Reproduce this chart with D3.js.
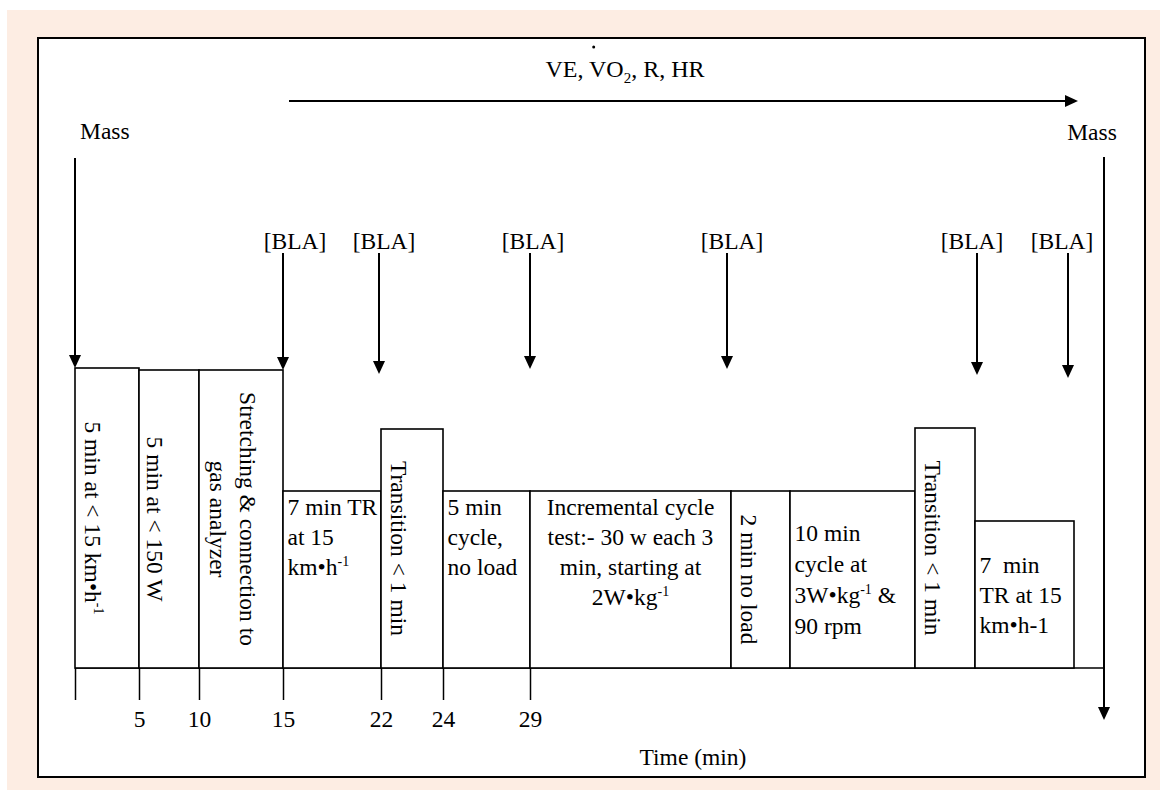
<!DOCTYPE html>
<html>
<head>
<meta charset="utf-8">
<script src="https://cdn.jsdelivr.net/npm/d3@7"></script>
<style>
  html, body { margin: 0; padding: 0; background: #fff; }
  svg text { font-family: "Liberation Serif", "Times New Roman", serif; fill: #000; white-space: pre; }
</style>
</head>
<body>
<svg id="chart" width="1160" height="798"></svg>
<script>
'use strict'

// protocol segments (minutes)
const segStart = [0, 5, 10, 15, 22, 24, 29, 41, 43, 53, 54];
const segEnd   = [5, 10, 15, 22, 24, 29, 41, 43, 53, 54, 61];
const segLabel = [
  ['5 min at < 15 km•h^-1^'],
  ['5 min at < 150 W'],
  ['Stretching & connection to', 'gas analyzer'],
  ['7 min TR', 'at 15', 'km•h^-1^'],
  ['Transition < 1 min'],
  ['5 min', 'cycle,', 'no load'],
  ['Incremental cycle', 'test:- 30 w each 3', 'min, starting at', '2W•kg^-1^'],
  ['2 min no load'],
  ['10 min', 'cycle at', '3W•kg^-1^ &', '90 rpm'],
  ['Transition < 1 min'],
  ['7  min', 'TR at 15', 'km•h-1']
];
const tickVals = [0, 5, 10, 15, 22, 24, 29];
const blaTimes = [15, 22, 29, 41, 54, 61];
const massTimes = [0, 61];
const topLabel = ['VE, VO', '2', ', R, HR'];
const axisTitle = 'Time (min)';

// layout (pixels)
const bounds = [0, 5, 10, 15, 22, 24, 29, 41, 43, 53, 54, 61];
const boundsPx = [75, 139, 199, 283, 381, 443, 530, 731, 790, 915, 975, 1074];
const baseY = 668;
const boxTop = [368, 370, 370, 491, 429, 491, 491, 491, 491, 428, 521];
const orient = ['v', 'v', 'v', 'h', 'v', 'h', 'h', 'v', 'h', 'v', 'h'];
const vOffset = [-22, -22, -31, 0, -21, 0, 0, -20, 0, -20, 0];
const hAlign = [null, null, null, 'left', null, 'left', 'middle', null, 'left', null, 'left'];
const vAlign = [null, null, null, 'top', null, 'top', 'top', null, 'middle', null, 'middle'];
const lineH = [30, 30, 30, 30, 30, 30, 30, 30, 31.3, 30, 30];
const blaTip = [370, 374, 369, 369, 375, 378];
const blaDx = [12, 5, 3, 5, -5, -6];
const fs = 23.5;

const svg = d3.select('#chart');
const x = d3.scaleLinear().domain(bounds).range(boundsPx);
const massRightX = 1104;

svg.append('rect').attr('x', 7).attr('y', 10).attr('width', 1153).attr('height', 780).attr('fill', '#fdede3');
svg.append('rect').attr('x', 38).attr('y', 38).attr('width', 1107).attr('height', 739)
  .attr('fill', '#fff').attr('stroke', '#000').attr('stroke-width', 2);

function addRich (sel, str) {
  const parts = str.split('^');
  parts.forEach((p, i) => {
    if (!p) return;
    const sup = i % 2 === 1;
    const t = sel.append('tspan').text(p);
    if (sup) {
      t.attr('font-size', 14).attr('dy', -9);
    } else if (i > 0 && parts[i - 1] !== undefined && i >= 2) {
      t.attr('dy', 9);
    }
  });
}

function arrowDown (xx, y1, y2) {
  svg.append('line').attr('x1', xx).attr('x2', xx).attr('y1', y1).attr('y2', y2 - 10)
    .attr('stroke', '#000').attr('stroke-width', 2);
  svg.append('path').attr('d', `M${xx - 6},${y2 - 13}L${xx + 6},${y2 - 13}L${xx},${y2}Z`).attr('fill', '#000');
}

// baseline
svg.append('line').attr('x1', x(0)).attr('x2', massRightX).attr('y1', baseY).attr('y2', baseY)
  .attr('stroke', '#000').attr('stroke-width', 1.6);

// axis ticks
const axis = d3.axisBottom(x).tickValues(tickVals).tickSize(32).tickPadding(10)
  .tickFormat(d => d === 0 ? '' : d);
const ag = svg.append('g').attr('transform', `translate(0,${baseY})`).call(axis);
ag.select('.domain').remove();
ag.selectAll('line').attr('stroke', '#000').attr('stroke-width', 1.5);
ag.selectAll('text').attr('font-size', fs).attr('font-family', '"Liberation Serif", serif').attr('fill', '#000');

// boxes
segStart.forEach((s, i) => {
  const x0 = x(s), x1 = x(segEnd[i]);
  const top = boxTop[i];
  svg.append('rect').attr('x', x0).attr('y', top).attr('width', x1 - x0).attr('height', baseY - top)
    .attr('fill', '#fff').attr('stroke', '#000').attr('stroke-width', 1.6);
  const lines = segLabel[i];
  const n = lines.length;
  if (orient[i] === 'v') {
    const cx = (x0 + x1) / 2 + vOffset[i];
    const cy = (top + baseY) / 2;
    const g = svg.append('g').attr('transform', `translate(${cx},${cy}) rotate(90)`);
    lines.forEach((ln, j) => {
      const t = g.append('text').attr('x', 0).attr('y', -(n - 1 - j) * lineH[i])
        .attr('text-anchor', 'middle').attr('font-size', fs);
      addRich(t, ln);
    });
  } else {
    let y0;
    if (vAlign[i] === 'top') y0 = top + 24;
    else y0 = (top + baseY) / 2 - (n - 1) * lineH[i] / 2 + 8;
    const tx = hAlign[i] === 'middle' ? (x0 + x1) / 2 : x0 + 4.5;
    lines.forEach((ln, j) => {
      const t = svg.append('text').attr('x', tx).attr('y', y0 + j * lineH[i])
        .attr('text-anchor', hAlign[i] === 'middle' ? 'middle' : 'start').attr('font-size', fs);
      addRich(t, ln);
    });
  }
});

// [BLA] arrows
blaTimes.forEach((t, i) => {
  const xx = x(t) - (i === 1 ? 2 : 0) - (i === 3 ? 4 : 0) + (i === 4 ? 2 : 0) - (i === 5 ? 6 : 0);
  svg.append('text').attr('x', xx + blaDx[i]).attr('y', 249).attr('text-anchor', 'middle')
    .attr('font-size', fs).text('[BLA]');
  arrowDown(xx, 253, blaTip[i]);
});

// Mass arrows
svg.append('text').attr('x', x(massTimes[0]) + 5).attr('y', 139).attr('font-size', fs).text('Mass');
arrowDown(x(massTimes[0]), 158, boxTop[0]);
svg.append('text').attr('x', massRightX - 12).attr('y', 140).attr('text-anchor', 'middle').attr('font-size', fs).text('Mass');
arrowDown(massRightX, 157, 720);

// measurement arrow on top
const ax0 = x(15) + 6, ax1 = x(61) + 4;
svg.append('line').attr('x1', ax0).attr('x2', ax1 - 10).attr('y1', 101).attr('y2', 101)
  .attr('stroke', '#000').attr('stroke-width', 2);
svg.append('path').attr('d', `M${ax1 - 13},${95}L${ax1 - 13},${107}L${ax1},${101}Z`).attr('fill', '#000');

const tt = svg.append('text').attr('x', 625).attr('y', 77).attr('text-anchor', 'middle').attr('font-size', 24);
tt.append('tspan').text(topLabel[0]);
tt.append('tspan').attr('font-size', 15).attr('dy', 6).text(topLabel[1]);
tt.append('tspan').attr('dy', -6).text(topLabel[2]);
const ext = tt.node().getExtentOfChar(4);
svg.append('circle').attr('cx', ext.x + ext.width / 2 - 4).attr('cy', 47).attr('r', 1.5).attr('fill', '#000');

// axis title
svg.append('text').attr('x', 693).attr('y', 765).attr('text-anchor', 'middle').attr('font-size', fs).text(axisTitle);
</script>
</body>
</html>
